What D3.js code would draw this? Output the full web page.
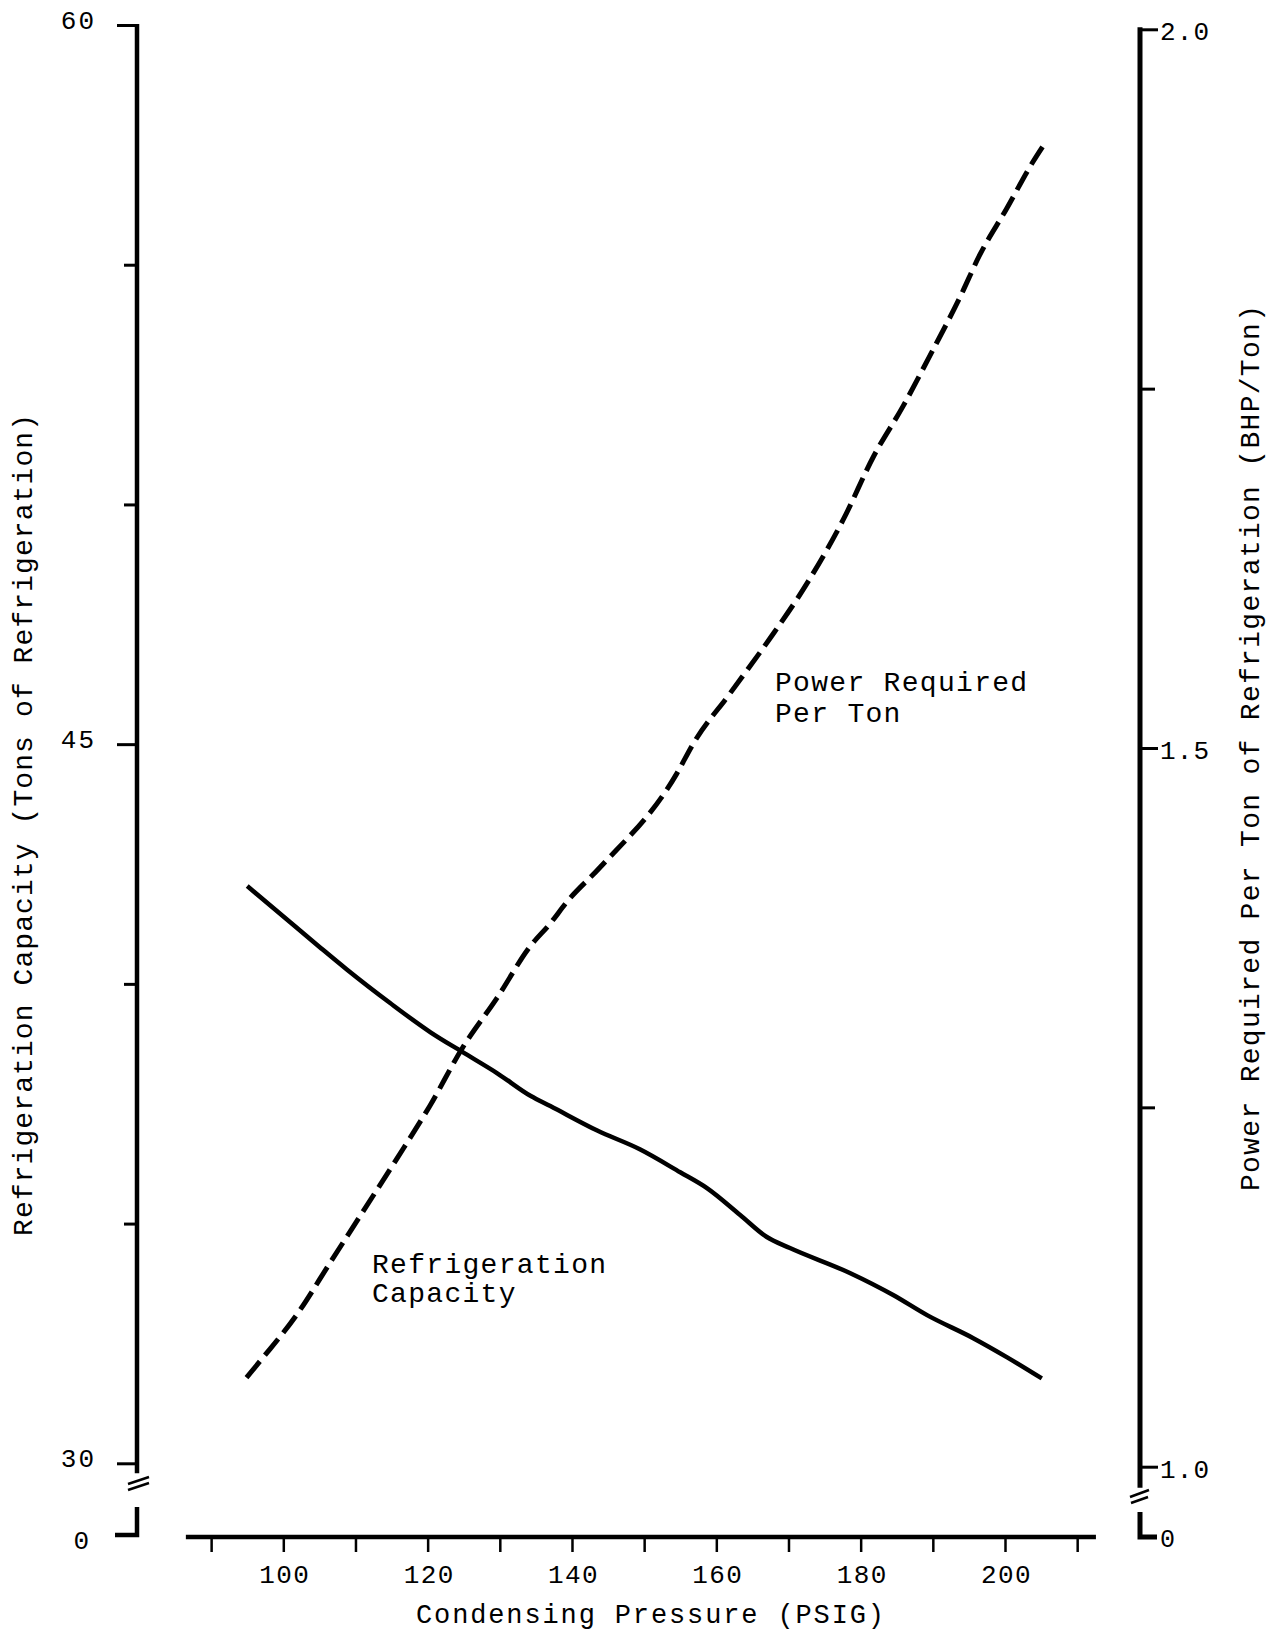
<!DOCTYPE html>
<html>
<head>
<meta charset="utf-8">
<script src="https://cdn.jsdelivr.net/npm/d3@7"></script>
<style>
  html, body { margin: 0; padding: 0; background: #fff; }
  svg { display: block; }
  text { font-family: "Liberation Mono", "DejaVu Sans Mono", monospace; fill: #000; }
</style>
</head>
<body>
<svg id="chart" width="1275" height="1643"></svg>
<script>
// ---- data ----
const pressureCap = [95.0, 101.0, 105.1, 108.8, 114.8, 120.4, 124.8, 129.7, 134.3, 137.0, 143.5, 149.4, 155.0, 158.7, 163.3, 167.0, 170.2, 178.5, 184.5, 189.2, 195.6, 200.3, 205.1];
const capacityTons = [42.04, 41.28, 40.76, 40.30, 39.60, 38.99, 38.58, 38.13, 37.66, 37.45, 36.94, 36.55, 36.07, 35.74, 35.18, 34.72, 34.49, 33.97, 33.51, 33.09, 32.61, 32.21, 31.77];

const pressurePow = [94.9, 97.2, 101.9, 106.5, 111.1, 115.7, 120.3, 124.9, 129.6, 134.2, 137.0, 139.3, 143.9, 154.5, 156.8, 161.9, 167.4, 172.5, 177.6, 181.8, 185.9, 189.6, 193.8, 196.5, 200.2, 203.9, 205.3];
const powerPerTon = [1.062, 1.076, 1.106, 1.142, 1.178, 1.214, 1.251, 1.292, 1.326, 1.362, 1.378, 1.393, 1.417, 1.482, 1.503, 1.538, 1.576, 1.614, 1.659, 1.703, 1.738, 1.773, 1.814, 1.843, 1.875, 1.908, 1.919];

const xTicks = [90, 100, 110, 120, 130, 140, 150, 160, 170, 180, 190, 200, 210];
const xTickLabels = [100, 120, 140, 160, 180, 200];
const leftTicks = [30, 35, 40, 45, 50, 55, 60];
const leftTickLabels = [30, 45, 60];
const rightTicks = [1.0, 1.25, 1.5, 1.75, 2.0];
const rightTickLabels = [1.0, 1.5, 2.0];

const xTitle = "Condensing Pressure (PSIG)";
const leftTitle = "Refrigeration Capacity (Tons of Refrigeration)";
const rightTitle = "Power Required Per Ton of Refrigeration (BHP/Ton)";
const capLabel = ["Refrigeration", "Capacity"];
const powLabel = ["Power Required", "Per Ton"];

// ---- layout ----
const svg = d3.select("#chart");
const x = d3.scaleLinear().domain([100, 200]).range([283.3, 1005]);
const yL = d3.scaleLinear().domain([30, 60]).range([1463.3, 25]);
const yR = d3.scaleLinear().domain([1.0, 2.0]).range([1466.7, 29.3]);

const leftX = 137, rightX = 1140, axisY = 1537;

// ---- left axis ----
const gL = svg.append("g").attr("transform", `translate(${leftX},0)`);
gL.call(d3.axisLeft(yL).tickValues(leftTicks).tickSize(20).tickSizeOuter(0).tickPadding(21)
  .tickFormat(d => leftTickLabels.includes(d) ? d3.format("d")(d) : ""));
gL.select(".domain").remove();
gL.selectAll(".tick line").attr("stroke", "#000").attr("stroke-width", 3)
  .attr("x2", d => leftTickLabels.includes(d) ? -20 : -13);
gL.selectAll(".tick text").attr("font-size", 26).attr("font-family", "Liberation Mono")
  .attr("letter-spacing", 2).attr("y", -5);
gL.append("line").attr("x1", 0).attr("x2", 0).attr("y1", yL(60) - 1).attr("y2", yL(30) + 10)
  .attr("stroke", "#000").attr("stroke-width", 4.5);
// break + zero stub
gL.append("line").attr("x1", -9).attr("y1", 1484).attr("x2", 12).attr("y2", 1477).attr("stroke", "#000").attr("stroke-width", 2.5);
gL.append("line").attr("x1", -9).attr("y1", 1490).attr("x2", 12).attr("y2", 1483).attr("stroke", "#000").attr("stroke-width", 2.5);
gL.append("path").attr("d", `M0,1507 V${axisY - 2} H-22`).attr("fill", "none").attr("stroke", "#000").attr("stroke-width", 4.5);
gL.append("text").attr("x", -48).attr("y", axisY + 4).attr("dy", "0.32em").attr("text-anchor", "end")
  .attr("font-size", 26).text("0");

// ---- right axis ----
const gR = svg.append("g").attr("transform", `translate(${rightX},0)`);
gR.call(d3.axisRight(yR).tickValues(rightTicks).tickSize(18).tickSizeOuter(0).tickPadding(2)
  .tickFormat(d => rightTickLabels.includes(d) ? d3.format(".1f")(d) : ""));
gR.select(".domain").remove();
gR.selectAll(".tick line").attr("stroke", "#000").attr("stroke-width", 3)
  .attr("x2", d => rightTickLabels.includes(d) ? 18 : 15);
gR.selectAll(".tick text").attr("font-size", 26).attr("letter-spacing", 1.2)
  .attr("font-family", "Liberation Mono").attr("y", 2);
gR.append("line").attr("x1", 0).attr("x2", 0).attr("y1", yR(2.0) - 2).attr("y2", yR(1.0) + 21)
  .attr("stroke", "#000").attr("stroke-width", 5);
gR.append("line").attr("x1", -10).attr("y1", 1497).attr("x2", 9).attr("y2", 1490).attr("stroke", "#000").attr("stroke-width", 2.5);
gR.append("line").attr("x1", -9).attr("y1", 1503).attr("x2", 8).attr("y2", 1497).attr("stroke", "#000").attr("stroke-width", 2.5);
gR.append("path").attr("d", `M0,1512 V${axisY} H17`).attr("fill", "none").attr("stroke", "#000").attr("stroke-width", 5);
gR.append("text").attr("x", 20).attr("y", axisY + 2).attr("dy", "0.32em").attr("font-size", 25).text("0");

// ---- x axis ----
const gX = svg.append("g").attr("transform", `translate(0,${axisY})`);
gX.call(d3.axisBottom(x).tickValues(xTicks).tickSize(15).tickSizeOuter(0)
  .tickFormat(d => xTickLabels.includes(d) ? d3.format("d")(d) : ""));
gX.select(".domain").remove();
gX.selectAll(".tick line").attr("stroke", "#000").attr("stroke-width", 2.5);
gX.selectAll(".tick text").attr("font-size", 26).attr("letter-spacing", 1.4)
  .attr("font-family", "Liberation Mono").attr("dy", 0).attr("y", 46).attr("dx", 1);
gX.append("line").attr("x1", x(86.5)).attr("x2", x(212.6)).attr("y1", 0).attr("y2", 0)
  .attr("stroke", "#000").attr("stroke-width", 4.5);

// ---- titles ----
svg.append("text").attr("x", 650).attr("y", 1623).attr("text-anchor", "middle")
  .attr("font-size", 27).attr("textLength", 468).attr("lengthAdjust", "spacing").text(xTitle);
svg.append("text").attr("transform", "translate(32,825) rotate(-90)").attr("text-anchor", "middle")
  .attr("font-size", 28).attr("textLength", 822).attr("lengthAdjust", "spacing").text(leftTitle);
svg.append("text").attr("transform", "translate(1259,748) rotate(-90)").attr("text-anchor", "middle")
  .attr("font-size", 28).attr("textLength", 886).attr("lengthAdjust", "spacing").text(rightTitle);

// ---- curves ----
const capData = pressureCap.map((p, i) => [p, capacityTons[i]]);
const powData = pressurePow.map((p, i) => [p, powerPerTon[i]]);

svg.append("path").datum(capData)
  .attr("d", d3.line().x(d => x(d[0])).y(d => yL(d[1])).curve(d3.curveMonotoneX))
  .attr("fill", "none").attr("stroke", "#000").attr("stroke-width", 4.5).attr("stroke-linecap", "butt");

svg.append("path").datum(powData)
  .attr("d", d3.line().x(d => x(d[0])).y(d => yR(d[1])).curve(d3.curveMonotoneX))
  .attr("fill", "none").attr("stroke", "#000").attr("stroke-width", 5)
  .attr("stroke-dasharray", "21,8");

// ---- curve labels ----
const capText = svg.append("text").attr("x", 372).attr("y", 1273).attr("font-size", 28).attr("letter-spacing", 1.3);
capLabel.forEach((s, i) => capText.append("tspan").attr("x", 372).attr("dy", i ? 29 : 0).text(s));
const powText = svg.append("text").attr("x", 775).attr("y", 691).attr("font-size", 28).attr("letter-spacing", 1.3);
powLabel.forEach((s, i) => powText.append("tspan").attr("x", 775).attr("dy", i ? 31 : 0).text(s));
</script>
</body>
</html>
